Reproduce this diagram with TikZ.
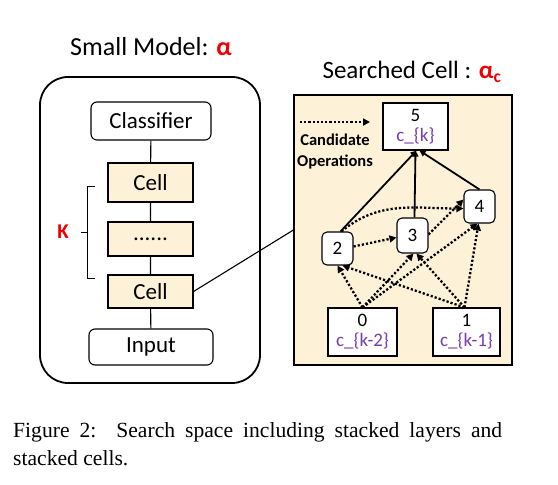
\documentclass[tikz,border=0pt]{standalone}
\usepackage{fontspec}
\setmainfont{Carlito}
\newfontfamily\capfont{Liberation Serif}
\usetikzlibrary{arrows.meta}
\definecolor{beige}{RGB}{253,242,216}
\definecolor{purp}{RGB}{120,60,170}
\definecolor{myred}{RGB}{240,0,0}
\tikzset{
  box/.style={draw, line width=1.1pt, inner sep=0pt, fill=white},
  rbox/.style={box, rounded corners=6pt},
  cellbox/.style={box, fill=beige},
  opnode/.style={box, rounded corners=5pt, font=\fontsize{19}{20}\selectfont},
  iobox/.style={box, align=center, font=\fontsize{19}{21}\selectfont},
  solidarrow/.style={line width=1.8pt, -{Triangle[length=6pt,width=6pt]}},
  dotarrow/.style={line width=2.3pt, dash pattern=on 2.2pt off 2pt, -{Triangle[length=7pt,width=7pt]}},
}
\begin{document}
\begin{tikzpicture}[x=1pt,y=-1pt]
\useasboundingbox (0,0) rectangle (558,485);
% left: small model
\node[font=\fontsize{26}{28}\selectfont] (t1) at (151,47) {Small Model: {\color{myred}\bfseries α}};
\node[draw, line width=1.8pt, rounded corners=28pt, minimum width=220pt, minimum height=306pt, inner sep=0pt] (outer) at (150,230) {};
\node[rbox, minimum width=120pt, minimum height=38pt, font=\fontsize{23}{24}\selectfont] (cls) at (151,121) {Classifier};
\node[cellbox, minimum width=85pt, minimum height=39pt, font=\fontsize{23}{24}\selectfont] (cellA) at (150.5,182.5) {Cell};
\node[cellbox, minimum width=85pt, minimum height=34pt, font=\fontsize{23}{24}\selectfont] (dots) at (150.5,239) {......};
\node[cellbox, minimum width=85pt, minimum height=33pt, font=\fontsize{23}{24}\selectfont] (cellB) at (150.5,291.5) {Cell};
\node[rbox, minimum width=124pt, minimum height=36pt, font=\fontsize{23}{24}\selectfont] (inp) at (151,347) {Input};
\draw[line width=1.1pt] (cls) -- (cellA) (cellA) -- (dots) (dots) -- (cellB) (cellB) -- (inp);
% bracket K
\coordinate (bt) at (95,186);
\coordinate (bb) at (95,278);
\coordinate (bm) at (87,232);
\coordinate (bk) at (81,232);
\draw[line width=1pt] (bt) -- ++(-8,0) |- (bb);
\draw[line width=1pt] (bm) -- (bk);
\node[font=\fontsize{21}{22}\selectfont\bfseries, text=myred] (K) at (63,232) {K};
% right: searched cell
\node[font=\fontsize{25}{28}\selectfont] (t2) at (412,72) {Searched Cell : {\color{myred}\bfseries α\textsubscript{c}}};
\node[draw, line width=1.2pt, fill=beige, minimum width=218pt, minimum height=270pt, inner sep=0pt] (big) at (403,230) {};
\draw[line width=1.1pt] (cellB.east) -- (big.west);
\node[iobox, minimum width=65pt, minimum height=47pt] (n5) at (415.5,126.5) {5\\[-1pt]{\color{purp}c\_\{k\}}};
\node[iobox, minimum width=69pt, minimum height=48pt] (n0) at (362.5,332) {0\\[-1pt]{\color{purp}c\_\{k-2\}}};
\node[iobox, minimum width=67pt, minimum height=48pt] (n1) at (466.5,332) {1\\[-1pt]{\color{purp}c\_\{k-1\}}};
\node[opnode, minimum width=31pt, minimum height=33pt] (n2) at (337.5,248.5) {2};
\node[opnode, minimum width=31pt, minimum height=35pt] (n3) at (412.5,235.5) {3};
\node[opnode, minimum width=31pt, minimum height=33pt] (n4) at (479.5,206.5) {4};
% legend
\coordinate (la) at (300,122);
\coordinate (lb) at (370,122);
\draw[dotarrow] (la) -- (lb);
\node[font=\fontsize{16.5}{21}\selectfont\bfseries, align=center] (lg) at (335,152) {Candidate\\Operations};
% solid edges
\draw[solidarrow] ([xshift=3pt]n2.north) -- ([xshift=1pt]n5.south);
\draw[solidarrow] ([xshift=2pt]n3.north) -- (n5.south);
\draw[solidarrow] (n4.north) -- ([xshift=4pt]n5.south);
% dotted edges
\draw[dotarrow] ([xshift=4pt]n2.north) to[out=40,in=180] ([yshift=-2pt]n4.west);
\draw[dotarrow] ([yshift=2pt]n2.east) -- ([yshift=-2pt]n3.west);
\draw[dotarrow] ([yshift=1pt]n3.east) -- ([yshift=7pt]n4.west);
\draw[dotarrow] (n0.north) -- (n2.south);
\draw[dotarrow] (n0.north) -- ([xshift=1pt]n3.south);
\draw[dotarrow] (n0.north) -- ([xshift=-2pt]n4.south);
\draw[dotarrow] ([xshift=-2pt]n1.north) -- ([xshift=5pt]n2.south);
\draw[dotarrow] ([xshift=-2pt]n1.north) -- ([xshift=4pt]n3.south);
\draw[dotarrow] ([xshift=-2pt]n1.north) -- ([xshift=-1pt]n4.south);
% caption
\node[anchor=north west, inner sep=0pt, text width=489pt, align=justify, font=\capfont\fontsize{21.6}{28}\selectfont] (cap) at (13,422) {Figure 2:\ \ Search space including stacked layers and stacked cells.};
\end{tikzpicture}
\end{document}
